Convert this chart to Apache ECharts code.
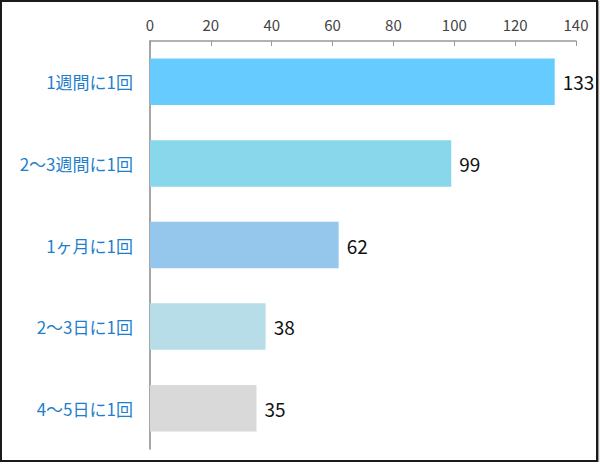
<!DOCTYPE html>
<html>
  <head>
    <meta charset="utf-8" />
    <title>頻度</title>
    <style>
      html,
      body {
        margin: 0;
        padding: 0;
        background: #fff;
      }
      #chart-container {
        width: 598px;
        height: 462px;
        box-sizing: border-box;
        border: 2px solid #1a1a1a;
        box-shadow: 1px 1px 1px #999;
      }
    </style>
    <script src="https://cdn.jsdelivr.net/npm/echarts@6/dist/echarts.min.js"></script>
  </head>
  <body>
    <div id="chart-container"></div>

    <script>
      // データ
      var categories = ["1週間に1回", "2～3週間に1回", "1ヶ月に1回", "2～3日に1回", "4～5日に1回"];
      var values = [133, 99, 62, 38, 35];
      var barColors = ["#66ccff", "#88d7eb", "#95c7ed", "#b7dde9", "#d9d9d9"];
      var xTicks = [0, 20, 40, 60, 80, 100, 120, 140];

      var font = "'Noto Sans CJK JP', 'Noto Sans', sans-serif";

      var myChart = echarts.init(document.getElementById("chart-container"), "", {
        renderer: "svg",
      });

      var option = {
        animation: false,
        grid: {
          left: 148,
          right: 20,
          top: 39,
          bottom: 11,
        },
        xAxis: {
          type: "value",
          position: "top",
          min: xTicks[0],
          max: xTicks[xTicks.length - 1],
          interval: 20,
          axisLine: { show: true, lineStyle: { color: "#999", width: 1.5 } },
          axisTick: { show: true, length: 5, inside: true, lineStyle: { color: "#999" } },
          splitLine: { show: false },
          axisLabel: { color: "#444", fontSize: 15, fontFamily: font, margin: 9 },
        },
        yAxis: {
          type: "category",
          inverse: true,
          data: categories,
          axisLine: { show: true, lineStyle: { color: "#888", width: 1.5 } },
          axisTick: { show: false },
          axisLabel: { color: "#1f7fcc", fontSize: 17, fontFamily: font, margin: 17 },
        },
        series: [
          {
            type: "bar",
            barWidth: "57%",
            data: values.map(function (v, i) {
              return { value: v, itemStyle: { color: barColors[i] } };
            }),
            label: {
              show: true,
              position: "right",
              distance: 8,
              color: "#111",
              fontSize: 19,
              fontFamily: font,
            },
          },
        ],
      };
      myChart.setOption(option);
    </script>
  </body>
</html>
